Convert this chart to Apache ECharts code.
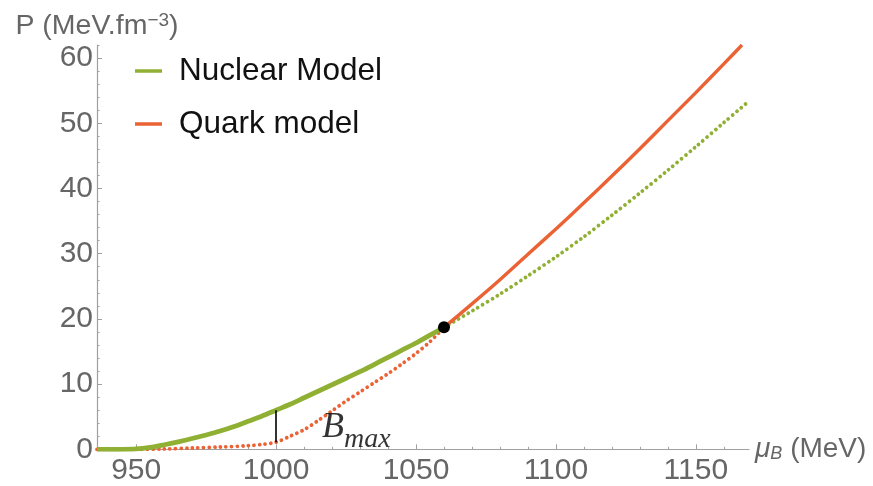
<!DOCTYPE html>
<html>
<head>
<meta charset="utf-8">
<title>Pressure vs baryon chemical potential</title>
<script src="https://cdn.jsdelivr.net/npm/echarts@6/dist/echarts.min.js"></script>
<style>
  html, body { margin: 0; padding: 0; background: #fff; }
  #chart { width: 873px; height: 486px; }
</style>
</head>
<body>
<div id="chart"></div>
<script>
// Baryon chemical potential (MeV) and pressure (MeV/fm^3) for each curve segment.
// Nuclear model, stable branch (solid), up to the crossing point.
const muNuclearStable = [936, 945, 950, 955, 960, 965, 970, 975, 980, 985, 990, 995, 1000,
  1005, 1010, 1015, 1020, 1025, 1030, 1035, 1040, 1045, 1050, 1055, 1060];
const pNuclearStable = [0, 0, 0.05, 0.3, 0.7, 1.15, 1.65, 2.2, 2.8, 3.5, 4.3, 5.1, 6.0,
  6.9, 7.9, 8.9, 9.9, 10.9, 11.9, 13.0, 14.1, 15.2, 16.3, 17.5, 18.7];
// Nuclear model beyond the crossing point (dotted).
const muNuclearBeyond = [1060, 1070, 1080, 1090, 1100, 1110, 1120, 1130, 1140, 1150, 1160, 1169];
const pNuclearBeyond = [18.7, 21.2, 23.8, 26.6, 29.5, 32.6, 35.9, 39.3, 42.8, 46.4, 50.1, 53.4];
// Quark model below the crossing point (dotted).
const muQuarkBelow = [936, 950, 960, 970, 980, 990, 995, 1000, 1005, 1010, 1015, 1020,
  1025, 1030, 1035, 1040, 1045, 1050, 1055, 1060];
const pQuarkBelow = [0, 0, 0.05, 0.2, 0.35, 0.55, 0.75, 1.1, 2.0, 3.0, 4.4, 5.9,
  7.4, 8.8, 10.2, 11.6, 13.1, 14.7, 16.5, 18.7];
// Quark model, stable branch (solid).
const muQuarkStable = [1060, 1070, 1080, 1090, 1100, 1110, 1120, 1130, 1140, 1150, 1160, 1166.5];
const pQuarkStable = [18.7, 22.3, 26.0, 29.9, 33.8, 37.8, 41.9, 46.1, 50.4, 54.7, 59.1, 62.0];

// Crossing point of the two equations of state.
const crossing = [1060, 18.7];
// Chemical potential where the bag-constant gap is marked.
const muBag = 1000;

// Axis ticks.
const xMajorTicks = [950, 1000, 1050, 1100, 1150];
const xMinorTicks = [940, 960, 970, 980, 990, 1010, 1020, 1030, 1040, 1060, 1070, 1080, 1090,
  1110, 1120, 1130, 1140, 1160];
const yMajorTicks = [0, 10, 20, 30, 40, 50, 60];
const yMinorTicks = [2, 4, 6, 8, 12, 14, 16, 18, 22, 24, 26, 28, 32, 34, 36, 38, 42, 44, 46, 48,
  52, 54, 56, 58, 62];

const NUCLEAR_COLOR = '#8FB032';
const QUARK_COLOR = '#EB6235';
const AXIS_GRAY = '#a0a0a0';
const LABEL_GRAY = '#666666';
const SANS = '"Liberation Sans", Arial, sans-serif';
const SERIF = '"Liberation Serif", "Times New Roman", serif';

const zip = (xs, ys) => xs.map((x, i) => [x, ys[i]]);

const pQuarkAtBag = pQuarkBelow[muQuarkBelow.indexOf(muBag)];
const pNuclearAtBag = pNuclearStable[muNuclearStable.indexOf(muBag)];

const X_MIN = 936, X_MAX = 1169, Y_MIN = 0, Y_MAX = 62;

const chart = echarts.init(document.getElementById('chart'), null, { renderer: 'canvas' });

const dotted = (color) => ({ color, width: 3.8, type: [0.01, 5.6], cap: 'round' });
const plain = (v) => String(v);

chart.setOption({
  animation: false,
  backgroundColor: '#ffffff',
  grid: { left: 97, top: 45, width: 652, height: 404.3, containLabel: false },
  legend: {
    data: ['Nuclear Model', 'Quark model'],
    orient: 'vertical',
    left: 130,
    top: 49,
    icon: 'rect',
    itemWidth: 27,
    itemHeight: 3.5,
    itemGap: 19,
    selectedMode: false,
    textStyle: { fontFamily: SANS, fontSize: 31.5, color: '#111', lineHeight: 34, padding: [0, 0, 0, 12] }
  },
  xAxis: [
    {
      type: 'value', min: X_MIN, max: X_MAX, position: 'bottom',
      name: '{mu|μ}{sub|B}{unit| (MeV)}',
      nameLocation: 'end', nameGap: 6,
      nameTextStyle: {
        rich: {
          mu: { fontFamily: SANS, fontStyle: 'italic', fontSize: 28, color: LABEL_GRAY },
          sub: { fontFamily: SANS, fontStyle: 'italic', fontSize: 18, color: LABEL_GRAY, padding: [10, 0, 0, 0] },
          unit: { fontFamily: SANS, fontSize: 28, color: LABEL_GRAY }
        }
      },
      splitLine: { show: false },
      axisLine: { show: true, onZero: false, lineStyle: { color: AXIS_GRAY, width: 1.2 } },
      axisTick: { show: true, inside: true, length: 5, customValues: xMajorTicks, lineStyle: { color: AXIS_GRAY } },
      axisLabel: { customValues: xMajorTicks, formatter: plain, margin: 6, fontFamily: SANS, fontSize: 30, color: LABEL_GRAY }
    },
    {
      type: 'value', min: X_MIN, max: X_MAX, position: 'bottom', offset: 0,
      splitLine: { show: false },
      axisLine: { show: false },
      axisTick: { show: true, inside: true, length: 2.5, customValues: xMinorTicks, lineStyle: { color: AXIS_GRAY } },
      axisLabel: { show: false }
    }
  ],
  yAxis: [
    {
      type: 'value', min: Y_MIN, max: Y_MAX, position: 'left',
      name: '{main|P (MeV.fm}{sup|−3}{main|)}',
      nameLocation: 'end', nameGap: 3,
      nameTextStyle: {
        rich: {
          main: { fontFamily: SANS, fontSize: 28.5, color: LABEL_GRAY },
          sup: { fontFamily: SANS, fontSize: 19, color: LABEL_GRAY, padding: [0, 0, 12, 0] }
        }
      },
      splitLine: { show: false },
      axisLine: { show: true, onZero: false, lineStyle: { color: AXIS_GRAY, width: 1.2 } },
      axisTick: { show: true, inside: true, length: 5, customValues: yMajorTicks, lineStyle: { color: AXIS_GRAY } },
      axisLabel: { customValues: yMajorTicks, formatter: plain, margin: 4, fontFamily: SANS, fontSize: 30, color: LABEL_GRAY }
    },
    {
      type: 'value', min: Y_MIN, max: Y_MAX, position: 'left', offset: 0,
      splitLine: { show: false },
      axisLine: { show: false },
      axisTick: { show: true, inside: true, length: 2.5, customValues: yMinorTicks, lineStyle: { color: AXIS_GRAY } },
      axisLabel: { show: false }
    }
  ],
  series: [
    {
      name: 'Quark model', type: 'line', z: 2,
      data: zip(muQuarkBelow, pQuarkBelow),
      smooth: 0.3, showSymbol: false,
      color: QUARK_COLOR, lineStyle: dotted(QUARK_COLOR),
      markLine: {
        silent: true, symbol: 'none', animation: false,
        label: { show: false },
        lineStyle: { color: '#000', width: 1.6, type: 'solid' },
        data: [[{ coord: [muBag, pQuarkAtBag] }, { coord: [muBag, pNuclearAtBag] }]]
      }
    },
    {
      name: 'Nuclear Model', type: 'line', z: 3,
      data: zip(muNuclearStable, pNuclearStable),
      smooth: 0.3, showSymbol: false,
      color: NUCLEAR_COLOR, lineStyle: { color: NUCLEAR_COLOR, width: 4.8 }
    },
    {
      name: 'Nuclear Model', type: 'line', z: 2,
      data: zip(muNuclearBeyond, pNuclearBeyond),
      smooth: 0.3, showSymbol: false,
      color: NUCLEAR_COLOR, lineStyle: dotted(NUCLEAR_COLOR)
    },
    {
      name: 'Quark model', type: 'line', z: 4,
      data: zip(muQuarkStable, pQuarkStable),
      smooth: 0.3, showSymbol: false,
      color: QUARK_COLOR, lineStyle: { color: QUARK_COLOR, width: 3.4 }
    },
    {
      name: 'crossing', type: 'scatter', z: 6,
      data: [crossing],
      symbol: 'circle', symbolSize: 12,
      itemStyle: { color: '#000', opacity: 1 }
    },
    {
      name: 'bag', type: 'scatter', z: 5, silent: true,
      data: [[1016.4, 3.4]],
      symbolSize: 0,
      label: {
        show: true, position: 'right', distance: 0,
        formatter: '{b|B}{s|max}',
        rich: {
          b: { fontFamily: SERIF, fontStyle: 'italic', fontSize: 36, color: '#000' },
          s: { fontFamily: SERIF, fontStyle: 'italic', fontSize: 28, color: '#000', padding: [26, 0, 0, 0] }
        }
      }
    }
  ]
});
</script>
</body>
</html>
